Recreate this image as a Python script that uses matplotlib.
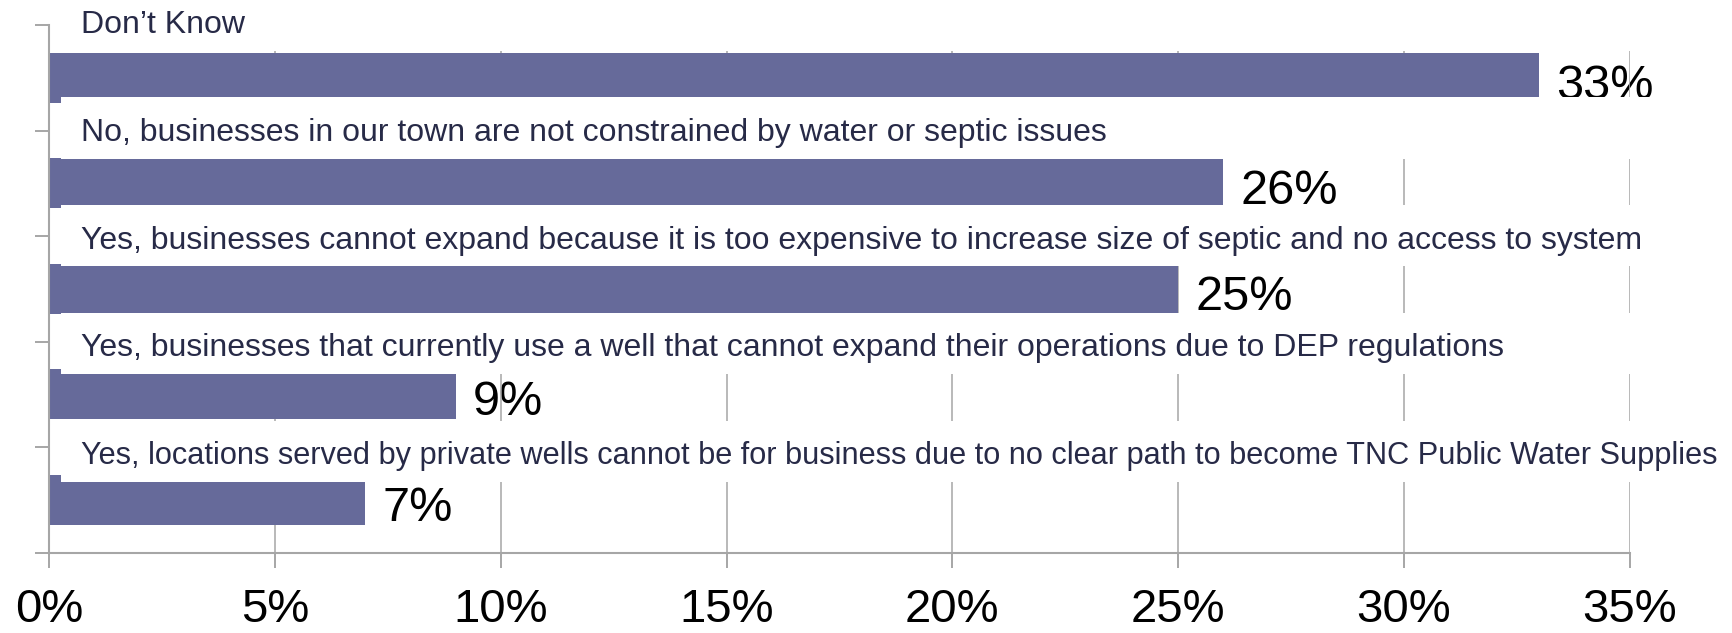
import matplotlib

matplotlib.use("Agg")
import matplotlib.pyplot as plt  # noqa: E402
from matplotlib.patches import Rectangle  # noqa: E402

plt.rcParams["font.family"] = ["Liberation Sans", "DejaVu Sans"]

categories = [
    "Don\u2019t Know",
    "No, businesses in our town are not constrained by water or septic issues",
    "Yes, businesses cannot expand because it is too expensive to increase size of septic and no access to system",
    "Yes, businesses that currently use a well that cannot expand their operations due to DEP regulations",
    "Yes, locations served by private wells cannot be for business due to no clear path to become TNC Public Water Supplies",
]
values = [33, 26, 25, 9, 7]
xticks = [0, 5, 10, 15, 20, 25, 30, 35]

BAR = "#666a9a"
TXT = "#272a47"
GRID = "#a6a6a6"

fig = plt.figure(figsize=(17.33, 6.33), dpi=100)
ax = fig.add_axes([0.0284, 0.127, 0.9120, 0.8335])

ys = list(range(len(categories)))
ax.barh(ys, values, height=0.475, color=BAR, zorder=2)

ax.set_xlim(0, 35)
ax.set_ylim(len(categories) - 0.5, -0.5)

ax.set_xticks(xticks)
ax.set_xticklabels([f"{t}%" for t in xticks], fontsize=34, color="black")
ax.grid(axis="x", color=GRID, lw=1.1)
ax.set_axisbelow(True)  # gridlines under the bars

ax.set_yticks([y - 0.5 for y in ys] + [len(ys) - 0.5])
ax.set_yticklabels([])
ax.tick_params(axis="y", length=10, width=1.4, color=GRID, direction="out")
ax.tick_params(axis="x", length=10.5, width=1.4, color=GRID, direction="out", pad=15)

for s in ["top", "right"]:
    ax.spines[s].set_visible(False)
for s in ["left", "bottom"]:
    ax.spines[s].set_color(GRID)
    ax.spines[s].set_linewidth(1.5)
    ax.spines[s].set_zorder(5)

# value labels, drawn under the gridlines
for y, v in zip(ys, values):
    ax.text(v + 0.38, y + 0.198, f"{v}%", fontsize=35, color="black",
            va="baseline", ha="left", zorder=0.3, clip_on=False)

# category labels on white boxes that hide the gridlines and part of the bars
renderer = fig.canvas.get_renderer()
for i, lab in enumerate(categories):
    yl = -0.531 + 1.0215 * i
    ax.add_patch(Rectangle((0.27, yl - 0.014 - 0.29), 60, 0.58, facecolor="white",
                           edgecolor="none", zorder=3, clip_on=False))
    t = ax.text(0.71, yl + 0.107, lab, fontsize=23, color=TXT, va="baseline",
                ha="left", zorder=4, clip_on=False)
    # the longest label is squeezed to end just inside the right edge
    bb = t.get_window_extent(renderer)
    right = 0.994 * fig.bbox.width
    if bb.x1 > right:
        t.set_fontsize(23 * (right - bb.x0) / bb.width)

fig.savefig("out.png", dpi=100)
